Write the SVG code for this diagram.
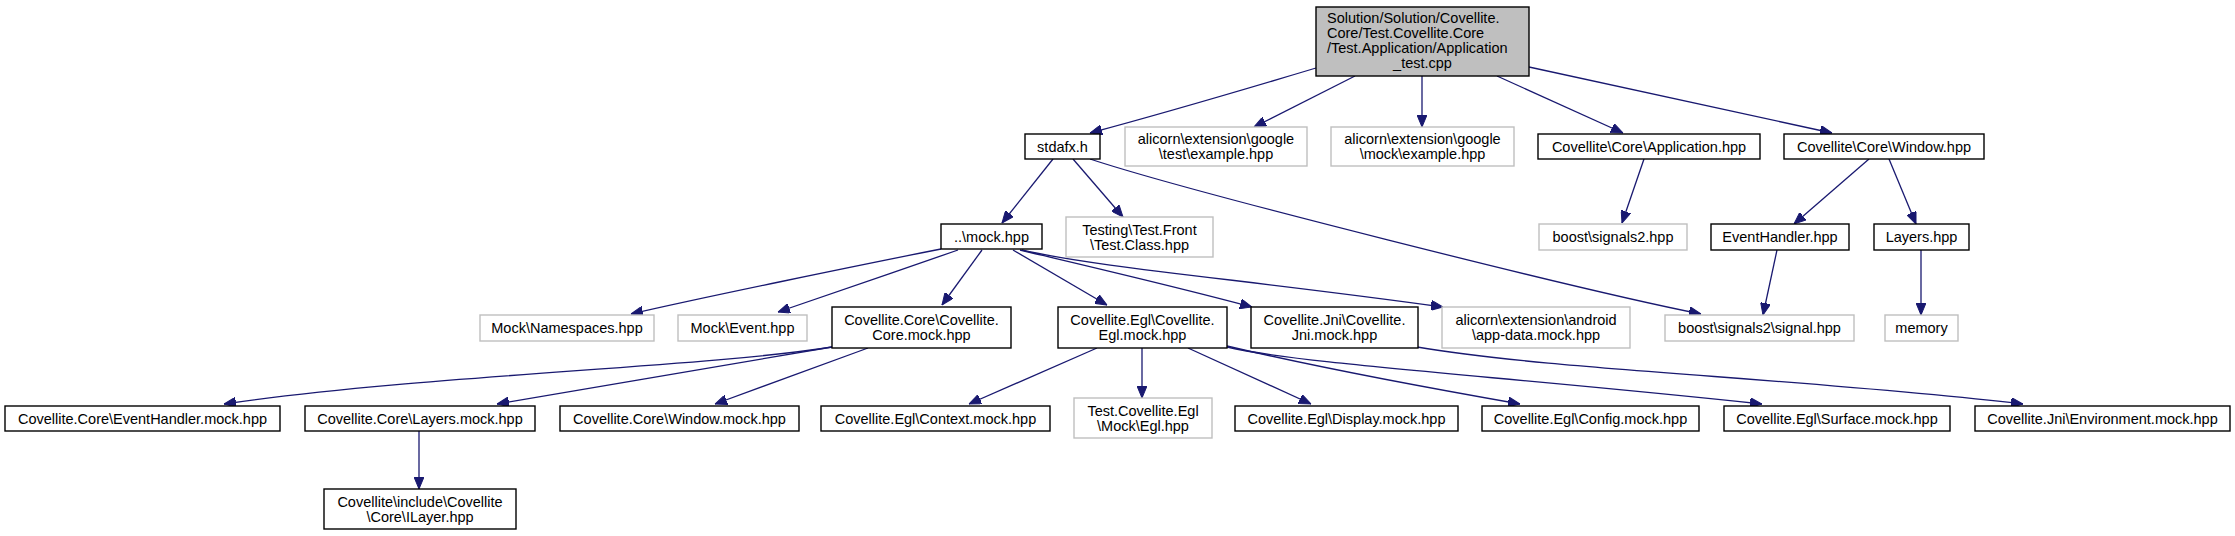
<svg xmlns="http://www.w3.org/2000/svg" width="2235" height="536" viewBox="0 0 2235 536">
<defs>
<style>
.n rect{fill:#ffffff;stroke:#000000;stroke-width:1.4}
.g rect{fill:#ffffff;stroke:#bfbfbf;stroke-width:1.4}
.r rect{fill:#bfbfbf;stroke:#000000;stroke-width:1.4}
text{font-family:"Liberation Sans",Arial,sans-serif;font-size:14.5px;fill:#000000}
.c{text-anchor:middle}
#edges path{fill:none;stroke:#191970;stroke-width:1.3;marker-end:url(#ah)}
</style>
<marker id="ah" viewBox="0 0 12 10" refX="12" refY="5" markerWidth="12" markerHeight="10" markerUnits="userSpaceOnUse" orient="auto">
<path d="M0,0 L12,5 L0,10 z" fill="#191970" stroke="#191970" stroke-width="1"/>
</marker>
</defs>
<rect width="2235" height="536" fill="#ffffff"/>
<g id="edges">
<path d="M1316,68 C1236,92 1146,118 1090,133"/>
<path d="M1355,76 L1254,127"/>
<path d="M1422,76 L1422,127"/>
<path d="M1497,76 L1623,133"/>
<path d="M1529,67 L1832,133"/>
<path d="M1053,159 L1002,223"/>
<path d="M1073,159 L1123,217"/>
<path d="M1090,159 C1190,192 1580,290 1701,314"/>
<path d="M1644,159 L1622,223"/>
<path d="M1869,159 L1794,224"/>
<path d="M1889,159 L1916,224"/>
<path d="M1777,250 L1763,315"/>
<path d="M1921,250 L1921,315"/>
<path d="M941,249 C860,265 700,298 631,314"/>
<path d="M958,250 C900,270 820,298 778,312"/>
<path d="M982,250 L942,305"/>
<path d="M1013,250 L1107,305"/>
<path d="M1020,250 C1070,262 1170,285 1252,307"/>
<path d="M1022,250 C1100,268 1250,280 1443,307"/>
<path d="M832,347 C700,368 420,375 224,404"/>
<path d="M832,347 C750,362 600,386 497,404"/>
<path d="M868,348 L715,404"/>
<path d="M419,431 L419,489"/>
<path d="M1097,348 L969,404"/>
<path d="M1142,348 L1142,398"/>
<path d="M1188,348 L1311,404"/>
<path d="M1227,346 C1320,368 1440,390 1520,404"/>
<path d="M1227,347 C1300,364 1500,376 1762,404"/>
<path d="M1417,347 C1550,370 1800,378 2023,404"/>
</g>
<g id="root" class="r"><rect x="1316" y="7" width="213" height="69"/>
<text x="1327" y="23">Solution/Solution/Covellite.</text>
<text x="1327" y="38">Core/Test.Covellite.Core</text>
<text x="1327" y="53">/Test.Application/Application</text>
<text class="c" x="1422.5" y="68">_test.cpp</text></g>
<g id="stdafx" class="n"><rect x="1025" y="134" width="75" height="25"/><text class="c" x="1062.5" y="151.5">stdafx.h</text></g>
<g id="gtest" class="g"><rect x="1125" y="127" width="182" height="39"/><text class="c" x="1216" y="144">alicorn\extension\google</text><text class="c" x="1216" y="159">\test\example.hpp</text></g>
<g id="gmock" class="g"><rect x="1331" y="127" width="183" height="39"/><text class="c" x="1422.5" y="144">alicorn\extension\google</text><text class="c" x="1422.5" y="159">\mock\example.hpp</text></g>
<g id="application" class="n"><rect x="1538" y="134" width="222" height="25"/><text class="c" x="1649" y="151.5">Covellite\Core\Application.hpp</text></g>
<g id="window" class="n"><rect x="1784" y="134" width="200" height="25"/><text class="c" x="1884" y="151.5">Covellite\Core\Window.hpp</text></g>
<g id="mock" class="n"><rect x="941" y="224" width="101" height="25"/><text class="c" x="991.5" y="241.5">..\mock.hpp</text></g>
<g id="testing" class="g"><rect x="1066" y="217" width="147" height="40"/><text class="c" x="1139.5" y="234.5">Testing\Test.Front</text><text class="c" x="1139.5" y="249.5">\Test.Class.hpp</text></g>
<g id="signals2" class="g"><rect x="1539" y="224" width="148" height="26"/><text class="c" x="1613" y="242">boost\signals2.hpp</text></g>
<g id="eventhandler" class="n"><rect x="1711" y="224" width="138" height="26"/><text class="c" x="1780" y="242">EventHandler.hpp</text></g>
<g id="layers" class="n"><rect x="1874" y="224" width="95" height="26"/><text class="c" x="1921.5" y="242">Layers.hpp</text></g>
<g id="namespaces" class="g"><rect x="480" y="315" width="174" height="26"/><text class="c" x="567" y="333">Mock\Namespaces.hpp</text></g>
<g id="event" class="g"><rect x="678" y="315" width="129" height="26"/><text class="c" x="742.5" y="333">Mock\Event.hpp</text></g>
<g id="coremock" class="n"><rect x="832" y="307" width="179" height="41"/><text class="c" x="921.5" y="325">Covellite.Core\Covellite.</text><text class="c" x="921.5" y="340">Core.mock.hpp</text></g>
<g id="eglmock" class="n"><rect x="1058" y="307" width="169" height="41"/><text class="c" x="1142.5" y="325">Covellite.Egl\Covellite.</text><text class="c" x="1142.5" y="340">Egl.mock.hpp</text></g>
<g id="jnimock" class="n"><rect x="1251" y="307" width="167" height="41"/><text class="c" x="1334.5" y="325">Covellite.Jni\Covellite.</text><text class="c" x="1334.5" y="340">Jni.mock.hpp</text></g>
<g id="appdata" class="g"><rect x="1442" y="307" width="188" height="41"/><text class="c" x="1536" y="325">alicorn\extension\android</text><text class="c" x="1536" y="340">\app-data.mock.hpp</text></g>
<g id="signal" class="g"><rect x="1665" y="315" width="189" height="26"/><text class="c" x="1759.5" y="333">boost\signals2\signal.hpp</text></g>
<g id="memory" class="g"><rect x="1885" y="315" width="73" height="26"/><text class="c" x="1921.5" y="333">memory</text></g>
<g id="ehmock" class="n"><rect x="5" y="406" width="275" height="25"/><text class="c" x="142.5" y="423.5">Covellite.Core\EventHandler.mock.hpp</text></g>
<g id="layersmock" class="n"><rect x="305" y="406" width="230" height="25"/><text class="c" x="420" y="423.5">Covellite.Core\Layers.mock.hpp</text></g>
<g id="windowmock" class="n"><rect x="560" y="406" width="239" height="25"/><text class="c" x="679.5" y="423.5">Covellite.Core\Window.mock.hpp</text></g>
<g id="contextmock" class="n"><rect x="821" y="406" width="229" height="25"/><text class="c" x="935.5" y="423.5">Covellite.Egl\Context.mock.hpp</text></g>
<g id="testegl" class="g"><rect x="1074" y="398" width="138" height="40"/><text class="c" x="1143" y="415.5">Test.Covellite.Egl</text><text class="c" x="1143" y="430.5">\Mock\Egl.hpp</text></g>
<g id="displaymock" class="n"><rect x="1235" y="406" width="223" height="25"/><text class="c" x="1346.5" y="423.5">Covellite.Egl\Display.mock.hpp</text></g>
<g id="configmock" class="n"><rect x="1482" y="406" width="217" height="25"/><text class="c" x="1590.5" y="423.5">Covellite.Egl\Config.mock.hpp</text></g>
<g id="surfacemock" class="n"><rect x="1724" y="406" width="226" height="25"/><text class="c" x="1837" y="423.5">Covellite.Egl\Surface.mock.hpp</text></g>
<g id="envmock" class="n"><rect x="1975" y="406" width="255" height="25"/><text class="c" x="2102.5" y="423.5">Covellite.Jni\Environment.mock.hpp</text></g>
<g id="ilayer" class="n"><rect x="324" y="489" width="192" height="40"/><text class="c" x="420" y="506.5">Covellite\include\Covellite</text><text class="c" x="420" y="521.5">\Core\ILayer.hpp</text></g>
</svg>
